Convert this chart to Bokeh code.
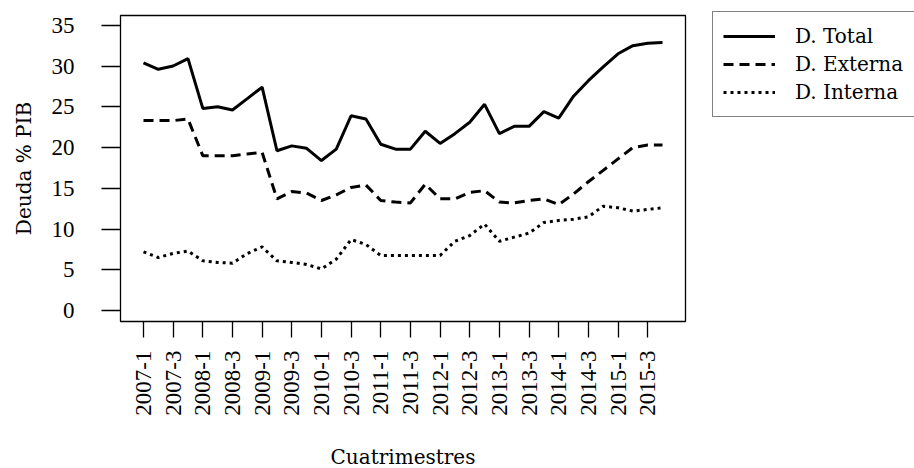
import math
from bokeh.plotting import figure
from bokeh.models import Range1d, FixedTicker, Legend, LegendItem
from bokeh.embed import file_html
from bokeh.resources import INLINE

tick_labels = ["2007-1", "2007-3", "2008-1", "2008-3", "2009-1", "2009-3",
               "2010-1", "2010-3", "2011-1", "2011-3", "2012-1", "2012-3",
               "2013-1", "2013-3", "2014-1", "2014-3", "2015-1", "2015-3"]

total = [30.4, 29.6, 30.0, 30.9, 24.8, 25.0, 24.6, 26.0, 27.4,
         19.6, 20.2, 19.9, 18.4, 19.8, 23.9, 23.5, 20.4, 19.8,
         19.8, 22.0, 20.5, 21.7, 23.1, 25.3, 21.7, 22.6, 22.6,
         24.4, 23.6, 26.3, 28.2, 29.9, 31.5, 32.5, 32.8, 32.9]
externa = [23.3, 23.3, 23.3, 23.5, 19.0, 19.0, 19.0, 19.2, 19.4,
           13.7, 14.6, 14.4, 13.5, 14.2, 15.1, 15.4, 13.5, 13.3,
           13.2, 15.5, 13.7, 13.7, 14.5, 14.7, 13.3, 13.2, 13.5,
           13.7, 13.0, 14.3, 15.8, 17.2, 18.6, 20.0, 20.3, 20.3]
interna = [7.2, 6.5, 7.0, 7.3, 6.1, 5.9, 5.8, 7.0, 7.8,
           6.1, 5.9, 5.65, 5.1, 6.3, 8.7, 8.1, 6.75, 6.75,
           6.75, 6.75, 6.75, 8.5, 9.2, 10.6, 8.5, 9.0, 9.5,
           10.8, 11.05, 11.2, 11.5, 12.8, 12.6, 12.2, 12.4, 12.6]
y_ticks = [0, 5, 10, 15, 20, 25, 30, 35]

x = list(range(len(total)))
tick_pos = [2 * i for i in range(len(tick_labels))]

SERIF = "Liberation Serif"
PAL = "DejaVu Serif"

p = figure(frame_width=565, frame_height=306, output_backend="svg",
           toolbar_location=None,
           x_range=Range1d(-1.55, 36.55), y_range=Range1d(-1.35, 36.2),
           min_border_left=120, min_border_top=15, min_border_right=0,
           min_border_bottom=5)
p.background_fill_color = "white"
p.border_fill_color = "white"
p.outline_line_color = "black"
p.outline_line_width = 1.3
p.grid.visible = False

r1 = p.line(x, total, line_color="black", line_width=3)
r2 = p.line(x, externa, line_color="black", line_width=3, line_dash="10 6")
r3 = p.line(x, interna, line_color="black", line_width=3, line_dash="3 4")

xa = p.xaxis[0]
xa.ticker = FixedTicker(ticks=tick_pos)
xa.major_label_overrides = {tp: lab for tp, lab in zip(tick_pos, tick_labels)}
xa.major_label_orientation = math.pi / 2
xa.major_label_text_font = SERIF
xa.major_label_text_font_size = "23px"
xa.major_label_text_color = "black"
xa.major_label_standoff = 13
xa.major_tick_out = 16
xa.major_tick_in = 0
xa.minor_tick_out = 0
xa.minor_tick_in = 0
xa.major_tick_line_color = "black"
xa.major_tick_line_width = 1.3
xa.axis_line_color = None
xa.axis_label = "Cuatrimestres"
xa.axis_label_text_font = PAL
xa.axis_label_text_font_size = "20px"
xa.axis_label_text_font_style = "normal"
xa.axis_label_text_color = "black"
xa.axis_label_standoff = 26

ya = p.yaxis[0]
ya.ticker = FixedTicker(ticks=y_ticks)
ya.major_label_orientation = "horizontal"
ya.major_label_text_font = SERIF
ya.major_label_text_font_size = "23px"
ya.major_label_text_color = "black"
ya.major_label_standoff = 27
ya.major_tick_out = 19
ya.major_tick_in = 0
ya.minor_tick_out = 0
ya.minor_tick_in = 0
ya.major_tick_line_color = "black"
ya.major_tick_line_width = 1.3
ya.axis_line_color = None
ya.axis_label = "Deuda % PIB"
ya.axis_label_text_font = PAL
ya.axis_label_text_font_size = "20px"
ya.axis_label_text_font_style = "normal"
ya.axis_label_text_color = "black"
ya.axis_label_standoff = 13

legend = Legend(items=[LegendItem(label="D. Total", renderers=[r1]),
                       LegendItem(label="D. Externa", renderers=[r2]),
                       LegendItem(label="D. Interna", renderers=[r3])],
                location=(27, 204))
legend.glyph_width = 52
legend.glyph_height = 28
legend.label_height = 28
legend.label_width = 125
legend.label_standoff = 20
legend.spacing = 0
legend.padding = 10
legend.margin = 0
legend.border_line_color = "black"
legend.border_line_width = 1.3
legend.background_fill_color = "white"
legend.background_fill_alpha = 1
legend.label_text_font = PAL
legend.label_text_font_size = "20px"
legend.label_text_color = "black"
p.add_layout(legend, "right")

open("out.html", "w").write(file_html(p, INLINE))
